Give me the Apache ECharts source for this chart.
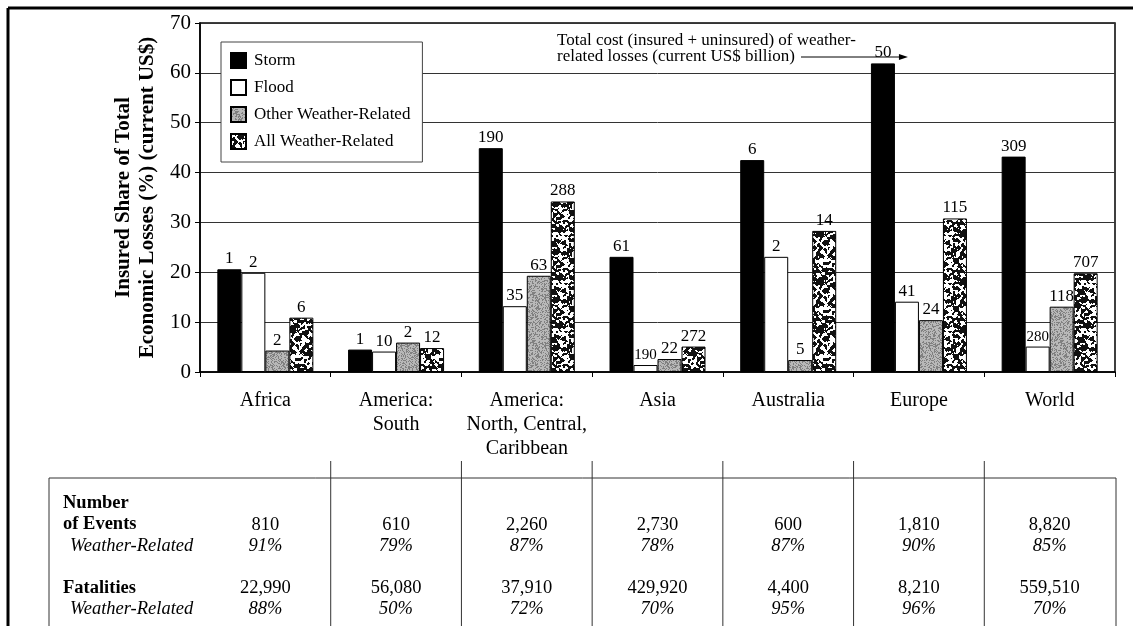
<!DOCTYPE html>
<html><head><meta charset="utf-8">
<script src="https://cdn.jsdelivr.net/npm/echarts@6/dist/echarts.min.js"></script>
<style>html,body{margin:0;padding:0;background:#fff}#c{width:1133px;height:626px}</style>
</head><body><div id="c"></div>
<script>
const categories = ['Africa', 'America:\nSouth', 'America:\nNorth, Central,\nCaribbean', 'Asia', 'Australia', 'Europe', 'World'];
const seriesNames = ['Storm', 'Flood', 'Other Weather-Related', 'All Weather-Related'];
const storm = [20.6, 4.5, 44.9, 23.1, 42.5, 61.9, 43.2];
const flood = [19.9, 4.1, 13.2, 1.4, 23.1, 14.1, 5.1];
const other = [4.3, 5.9, 19.3, 2.6, 2.4, 10.4, 13.1];
const allWeather = [10.9, 4.8, 34.2, 5.1, 28.3, 30.8, 19.8];
const stormCost = ['1', '1', '190', '61', '6', '50', '309'];
const floodCost = ['2', '10', '35', '190', '2', '41', '280'];
const otherCost = ['2', '2', '63', '22', '5', '24', '118'];
const allCost = ['6', '12', '288', '272', '14', '115', '707'];
const yTicks = [0, 10, 20, 30, 40, 50, 60, 70];
const events = ['810', '610', '2,260', '2,730', '600', '1,810', '8,820'];
const eventsWR = ['91%', '79%', '87%', '78%', '87%', '90%', '85%'];
const fatalities = ['22,990', '56,080', '37,910', '429,920', '4,400', '8,210', '559,510'];
const fatalitiesWR = ['88%', '50%', '72%', '70%', '95%', '96%', '70%'];

const FONT = '"Liberation Serif", "Times New Roman", serif';

// deterministic texture helpers (styling only)
function lcg(seed) { let s = seed; return () => { s = (s * 1103515245 + 12345) % 2147483648; return s / 2147483648; }; }
function mottled(size, seed, prob, smooth, bg, fg) {
  const rnd = lcg(seed);
  let a = [];
  for (let i = 0; i < size * size; i++) a.push(rnd() < prob ? 1 : 0);
  for (let k = 0; k < smooth; k++) {
    const b = [];
    for (let y = 0; y < size; y++) for (let x = 0; x < size; x++) {
      let n = 0;
      for (let dy = -1; dy <= 1; dy++) for (let dx = -1; dx <= 1; dx++) n += a[((y + dy + size) % size) * size + ((x + dx + size) % size)];
      b.push(n > 4 ? 1 : (n < 4 ? 0 : a[y * size + x]));
    }
    a = b;
  }
  const cv = document.createElement('canvas');
  cv.width = size; cv.height = size;
  const ctx = cv.getContext('2d');
  ctx.fillStyle = bg; ctx.fillRect(0, 0, size, size);
  ctx.fillStyle = fg;
  for (let y = 0; y < size; y++) for (let x = 0; x < size; x++) if (a[y * size + x]) ctx.fillRect(x, y, 1, 1);
  return cv;
}
const allPattern = { image: mottled(48, 11, 0.5, 1, '#ffffff', '#111111'), repeat: 'repeat' };
const otherPattern = { image: mottled(48, 5, 0.35, 0, '#b8b8b8', '#808080'), repeat: 'repeat' };

const chart = echarts.init(document.getElementById('c'), null, { renderer: 'canvas' });

function mk(name, vals, costs, color, smallIdx) {
  return {
    name: name, type: 'bar', barWidth: 24, barGap: '0%',
    data: vals.map((v, i) => {
      const d = { value: v, label: { formatter: costs[i] } };
      if (smallIdx && smallIdx.indexOf(i) >= 0) d.label.fontSize = 15;
      return d;
    }),
    itemStyle: { color: color, borderColor: '#000', borderWidth: 1 },
    label: { show: true, position: 'top', distance: 2, fontFamily: FONT, fontSize: 17, color: '#000' },
    emphasis: { disabled: true }, animation: false
  };
}

chart.setOption({
  animation: false,
  backgroundColor: '#fff',
  textStyle: { fontFamily: FONT },
  grid: { left: 200, right: 18, top: 23, bottom: 254, show: true, borderColor: '#000', borderWidth: 1.5, backgroundColor: 'transparent' },
  legend: {
    orient: 'vertical', left: 221, top: 42, itemWidth: 15, itemHeight: 15, itemGap: 10,
    padding: [10, 12, 12, 9], backgroundColor: '#fff', borderColor: '#444', borderWidth: 1,
    textStyle: { fontFamily: FONT, fontSize: 17, color: '#000', padding: [0, 0, 0, 3] }, icon: 'rect', selectedMode: false,
    data: seriesNames
  },
  xAxis: {
    type: 'category', data: categories,
    axisLine: { lineStyle: { color: '#000', width: 1.5 } },
    axisTick: { show: true, length: 5, lineStyle: { color: '#000' } },
    axisLabel: { interval: 0, fontFamily: FONT, fontSize: 20, color: '#000', margin: 17, lineHeight: 24 }
  },
  yAxis: {
    type: 'value', min: yTicks[0], max: yTicks[yTicks.length - 1], interval: 10,
    name: 'Insured Share of Total\nEconomic Losses (%) (current US$)', nameLocation: 'middle', nameGap: 40,
    nameTextStyle: { fontFamily: FONT, fontSize: 21, fontWeight: 'bold', color: '#000', lineHeight: 24 },
    axisLine: { show: true, lineStyle: { color: '#000', width: 1.5 } },
    axisTick: { show: true, length: 5, lineStyle: { color: '#000' } },
    axisLabel: { fontFamily: FONT, fontSize: 21, color: '#000', margin: 9 },
    splitLine: { lineStyle: { color: '#333', width: 1 } }
  },
  series: [
    mk(seriesNames[0], storm, stormCost, '#000'),
    mk(seriesNames[1], flood, floodCost, '#fff', [3, 6]),
    mk(seriesNames[2], other, otherCost, otherPattern),
    mk(seriesNames[3], allWeather, allCost, allPattern)
  ]
});

const cx = categories.map((c, i) => chart.convertToPixel({ xAxisIndex: 0 }, i));
const step = cx[1] - cx[0];
const gRight = cx[cx.length - 1] + step / 2;
const g = [];
const lineStyle = { stroke: '#333', lineWidth: 1 };
g.push({ type: 'line', shape: { x1: 8, y1: 8, x2: 1133, y2: 8 }, style: { stroke: '#000', lineWidth: 3 } });
g.push({ type: 'line', shape: { x1: 8, y1: 8, x2: 8, y2: 626 }, style: { stroke: '#000', lineWidth: 3 } });
g.push({ type: 'line', shape: { x1: 49, y1: 478, x2: gRight + 1, y2: 478 }, style: lineStyle });
g.push({ type: 'line', shape: { x1: 49, y1: 478, x2: 49, y2: 626 }, style: lineStyle });
g.push({ type: 'line', shape: { x1: gRight + 1, y1: 478, x2: gRight + 1, y2: 626 }, style: lineStyle });
for (let i = 0; i < cx.length - 1; i++) {
  const x = (cx[i] + cx[i + 1]) / 2;
  g.push({ type: 'line', shape: { x1: x, y1: 461, x2: x, y2: 626 }, style: lineStyle });
}
const TF = 18.5;
const rl = (text, x, y, bold, italic) => g.push({ type: 'text', x: x, y: y, style: { text: text, fontFamily: FONT, fontSize: TF, fontWeight: bold ? 'bold' : 'normal', fontStyle: italic ? 'italic' : 'normal', fill: '#000', verticalAlign: 'middle', align: 'left' } });
rl('Number', 63, 503, true);
rl('of Events', 63, 524, true);
rl('Weather-Related', 70, 546, false, true);
rl('Fatalities', 63, 588, true);
rl('Weather-Related', 70, 609, false, true);
const cell = (text, x, y, italic) => g.push({ type: 'text', x: x, y: y, style: { text: text, fontFamily: FONT, fontSize: TF, fontStyle: italic ? 'italic' : 'normal', fill: '#000', align: 'center', verticalAlign: 'middle' } });
cx.forEach((x, i) => {
  cell(events[i], x, 525);
  cell(eventsWR[i], x, 546, true);
  cell(fatalities[i], x, 588);
  cell(fatalitiesWR[i], x, 609, true);
});
g.push({ type: 'text', x: 557, y: 49, style: { text: 'Total cost (insured + uninsured) of weather-\nrelated losses (current US$ billion)', fontFamily: FONT, fontSize: 17, lineHeight: 16, fill: '#000', verticalAlign: 'middle', align: 'left' } });
const tipX = cx[5] - 11;
g.push({ type: 'line', shape: { x1: 801, y1: 57, x2: tipX - 6, y2: 57 }, style: { stroke: '#000', lineWidth: 1 } });
g.push({ type: 'polygon', shape: { points: [[tipX, 57], [tipX - 9, 54], [tipX - 9, 60]] }, style: { fill: '#000' } });

chart.setOption({ graphic: g });
</script></body></html>
